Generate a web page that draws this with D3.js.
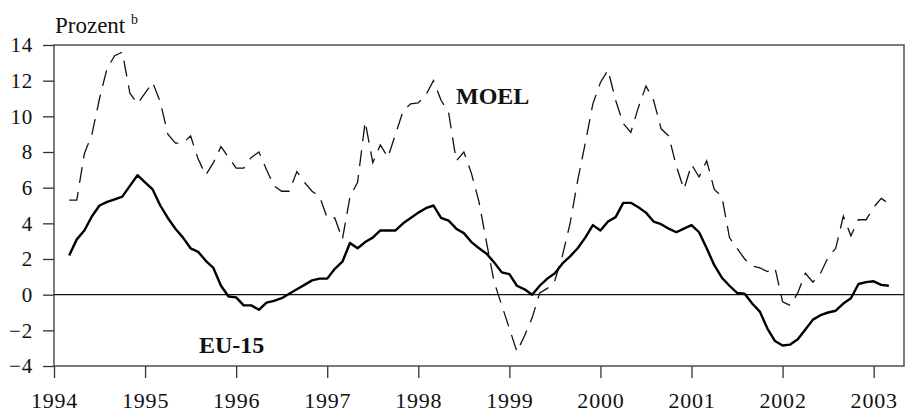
<!DOCTYPE html>
<html>
<head>
<meta charset="utf-8">
<script src="https://cdn.jsdelivr.net/npm/d3@7"></script>
<style>
  body { margin: 0; background: #fff; }
  text { font-family: "Liberation Serif", "Times New Roman", serif; fill: #111; }
</style>
</head>
<body>
<script>
// ----------------------------------- DATA --------------------------------------------
// monthly values, March 1994 .. March 2003
var startYear = 1994
var startMonth = 3

var eu15 = [2.2, 3.1, 3.6, 4.4, 5.0, 5.2, 5.35, 5.5, 6.1, 6.7, 6.3, 5.9,
	5.0, 4.3, 3.7, 3.2, 2.6, 2.4, 1.9, 1.5, 0.5, -0.1, -0.15, -0.6,
	-0.6, -0.85, -0.45, -0.35, -0.2, 0.05, 0.3, 0.55, 0.8, 0.9, 0.9, 1.45,
	1.85, 2.9, 2.6, 2.95, 3.2, 3.6, 3.6, 3.6, 4.0, 4.3, 4.6, 4.85,
	5.0, 4.3, 4.15, 3.7, 3.45, 2.95, 2.6, 2.3, 1.8, 1.25, 1.15, 0.5,
	0.3, 0.0, 0.5, 0.9, 1.2, 1.75, 2.15, 2.6, 3.2, 3.9, 3.6, 4.1,
	4.35, 5.15, 5.15, 4.9, 4.6, 4.1, 3.95, 3.7, 3.5, 3.7, 3.9, 3.5,
	2.6, 1.65, 0.95, 0.5, 0.1, 0.05, -0.5, -0.95, -1.9, -2.6, -2.85, -2.8,
	-2.5, -1.95, -1.4, -1.15, -1.0, -0.9, -0.5, -0.2, 0.6, 0.7, 0.75, 0.55,
	0.5]

var moel = [5.3, 5.3, 7.9, 9.0, 11.0, 12.7, 13.4, 13.6, 11.3, 10.7, 11.3, 11.9,
	10.8, 9.0, 8.5, 8.5, 8.9, 7.6, 6.7, 7.4, 8.3, 7.7, 7.1, 7.1,
	7.7, 8.0, 7.0, 6.1, 5.8, 5.8, 6.9, 6.3, 5.8, 5.5, 4.3, 4.3,
	3.1, 5.5, 6.3, 9.7, 7.4, 8.4, 7.7, 9.0, 10.3, 10.7, 10.75, 11.2,
	12.0, 10.9, 10.2, 7.5, 8.0, 6.8, 5.2, 2.9, 0.7, -0.6, -1.9, -3.2,
	-2.3, -1.3, 0.1, 0.35, 0.8, 2.2, 4.0, 6.4, 8.5, 10.7, 11.9, 12.6,
	10.9, 9.6, 9.1, 10.5, 11.7, 10.9, 9.3, 8.9, 7.2, 5.9, 7.3, 6.6,
	7.5, 5.9, 5.5, 3.2, 2.6, 2.0, 1.6, 1.5, 1.3, 1.5, -0.4, -0.6,
	0.1, 1.2, 0.7, 1.2, 2.1, 2.6, 4.4, 3.3, 4.2, 4.2, 4.9, 5.4,
	5.1]

var yearTicks = [1994, 1995, 1996, 1997, 1998, 1999, 2000, 2001, 2002, 2003]
var valueTicks = [-4, -2, 0, 2, 4, 6, 8, 10, 12, 14]

// ----------------------------------- SVG --------------------------------------------
var width = 908
var height = 415

var svg = d3.select('body')
	.append('svg')
	.attr('width', width)
	.attr('height', height)

var x = d3.scaleLinear().domain([1994, 2003.333]).range([54, 904])
var y = d3.scaleLinear().domain([-4, 14]).range([366, 45])

function monthPos(i) {
	return startYear + (startMonth - 1 + i) / 12
}

// ----------------------------------- AXES --------------------------------------------
var xAxis = svg.append('g')
	.attr('transform', 'translate(0,' + y(-4) + ')')
	.call(d3.axisBottom(x).tickValues(yearTicks).tickFormat(d3.format('d')).tickSize(12).tickPadding(14))

var yAxis = svg.append('g')
	.attr('transform', 'translate(' + x(1994) + ',0)')
	.call(d3.axisLeft(y).tickValues(valueTicks).tickSize(11).tickPadding(10))

svg.selectAll('.domain').remove()
svg.selectAll('.tick line').attr('stroke', '#333').attr('stroke-width', 1.3)
xAxis.selectAll('text')
	.attr('font-size', 22)
	.attr('letter-spacing', 0.8)
	.attr('fill', '#111')
yAxis.selectAll('text')
	.attr('font-size', 21)
	.attr('letter-spacing', 0.8)
	.attr('fill', '#111')

// frame
svg.append('rect')
	.attr('x', x(1994))
	.attr('y', y(14))
	.attr('width', x(2003.333) - x(1994))
	.attr('height', y(-4) - y(14))
	.attr('fill', 'none')
	.attr('stroke', '#444')
	.attr('stroke-width', 1.4)

// zero line
svg.append('line')
	.attr('x1', x(1994))
	.attr('x2', x(2003.333))
	.attr('y1', y(0))
	.attr('y2', y(0))
	.attr('stroke', '#111')
	.attr('stroke-width', 1.1)

// ----------------------------------- LINES --------------------------------------------
var line = d3.line()
	.x(function(d, i) { return x(monthPos(i)) })
	.y(function(d) { return y(d) })

svg.append('path')
	.datum(moel)
	.attr('d', line)
	.attr('fill', 'none')
	.attr('stroke', '#111')
	.attr('stroke-width', 1.3)
	.attr('stroke-dasharray', '16,9')

svg.append('path')
	.datum(eu15)
	.attr('d', line)
	.attr('fill', 'none')
	.attr('stroke', '#000')
	.attr('stroke-width', 2.4)
	.attr('stroke-linejoin', 'round')

// ----------------------------------- LABELS --------------------------------------------
svg.append('text')
	.attr('x', 55)
	.attr('y', 33)
	.attr('font-size', 23)
	.text('Prozent')

svg.append('text')
	.attr('x', 131)
	.attr('y', 24)
	.attr('font-size', 14)
	.text('b')

svg.append('text')
	.attr('x', 456)
	.attr('y', 104)
	.attr('font-size', 24)
	.attr('font-weight', 'bold')
	.text('MOEL')

svg.append('text')
	.attr('x', 199)
	.attr('y', 353)
	.attr('font-size', 24)
	.attr('font-weight', 'bold')
	.text('EU-15')
</script>
</body>
</html>
